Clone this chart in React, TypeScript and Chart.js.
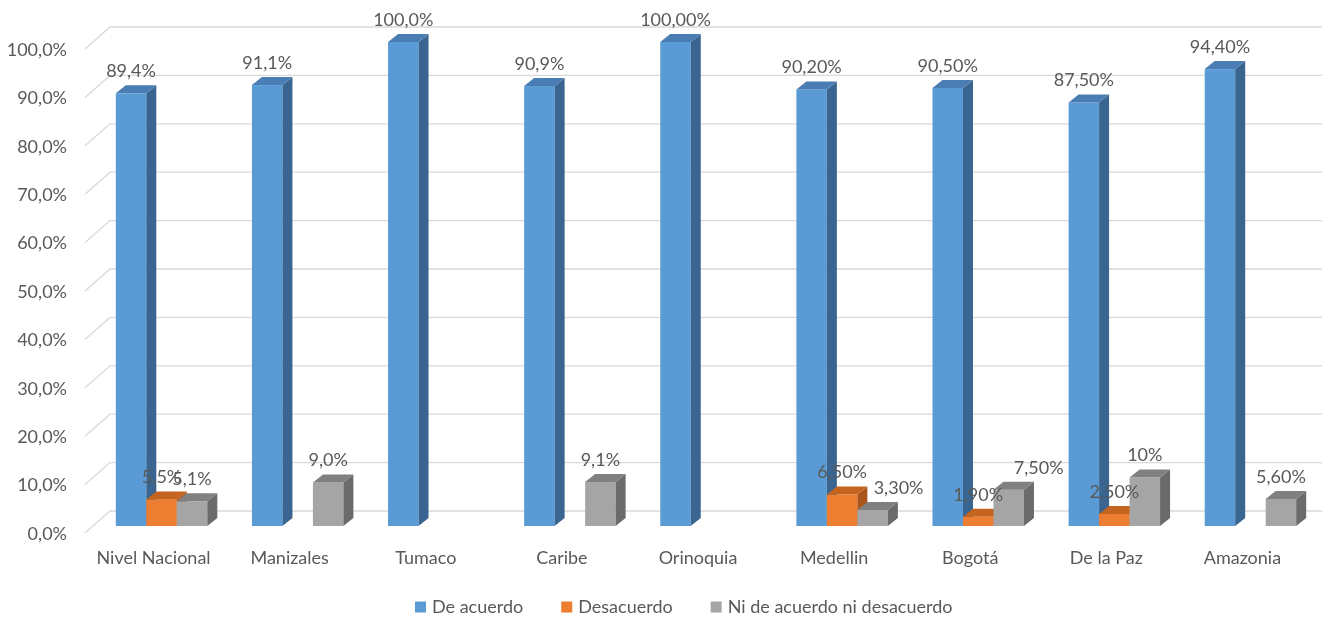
import React, { useEffect, useRef } from "react";
import { Chart, registerables } from "chart.js";

Chart.register(...registerables);

// ---- data ----
const categories = ["Nivel Nacional", "Manizales", "Tumaco", "Caribe", "Orinoquia", "Medellin", "Bogotá", "De la Paz", "Amazonia"];
const seriesNames = ["De acuerdo", "Desacuerdo", "Ni de acuerdo ni desacuerdo"];
const deAcuerdo = [89.4, 91.1, 100, 90.9, 100, 90.2, 90.5, 87.5, 94.4];
const desacuerdo = [5.5, null, null, null, null, 6.5, 1.9, 2.5, null];
const niNi = [5.1, 9.0, null, 9.1, null, 3.3, 7.5, 10, 5.6];
const deAcuerdoLabels = ["89,4%", "91,1%", "100,0%", "90,9%", "100,00%", "90,20%", "90,50%", "87,50%", "94,40%"];
const desacuerdoLabels = ["5,5%", "", "", "", "", "6,50%", "1,90%", "2,50%", ""];
const niNiLabels = ["5,1%", "9,0%", "", "9,1%", "", "3,30%", "7,50%", "10%", "5,60%"];
const yTickValues = [0, 10, 20, 30, 40, 50, 60, 70, 80, 90, 100];

// ---- styling ----
const FONT = "Lato, 'Open Sans', sans-serif";
const TEXT = "#595959";
const FRONT = ["#5B9BD5", "#ED7D31", "#A5A5A5"];
const TOP = ["#4A7DB4", "#C4641F", "#808080"];
const SIDE = ["#3A6590", "#A9561B", "#6B6B6B"];
const DEPTH_X = 10;
const DEPTH_Y = -8;
// label nudges (dataset-index, category-index) -> x shift
const labelNudge: Record<string, number> = { "2-5": 26, "2-6": 30 };

const allValues = [deAcuerdo, desacuerdo, niNi];
const allLabels = [deAcuerdoLabels, desacuerdoLabels, niNiLabels];

const bars3d = {
  id: "bars3d",
  beforeDatasetsDraw(chart: any) {
    const ctx = chart.ctx;
    const ys = chart.scales.y;
    const left = chart.chartArea.left;
    ctx.save();
    ctx.strokeStyle = "#D9D9D9";
    ctx.lineWidth = 1.3;
    for (const v of yTickValues) {
      const y = ys.getPixelForValue(v);
      ctx.beginPath();
      ctx.moveTo(left - 8.5, y + 7);
      ctx.lineTo(left + 16.5, y - 15);
      ctx.lineTo(chart.width, y - 15);
      ctx.stroke();
    }
    ctx.restore();
  },
  beforeDatasetDraw() {
    return false;
  },
  afterDatasetsDraw(chart: any) {
    const ctx = chart.ctx;
    ctx.save();
    const n = categories.length;
    for (let j = 0; j < n; j++) {
      for (let i = 0; i < 3; i++) {
        const val = allValues[i][j];
        if (val === null || val === undefined) continue;
        const el: any = chart.getDatasetMeta(i).data[j];
        const { x, y, base, width } = el.getProps(["x", "y", "base", "width"], true);
        const l = x - width / 2;
        const r = x + width / 2;
        // front
        ctx.fillStyle = FRONT[i];
        ctx.fillRect(l, y, width, base - y);
        // side
        ctx.fillStyle = SIDE[i];
        ctx.beginPath();
        ctx.moveTo(r, y);
        ctx.lineTo(r + DEPTH_X, y + DEPTH_Y);
        ctx.lineTo(r + DEPTH_X, base + DEPTH_Y);
        ctx.lineTo(r, base);
        ctx.closePath();
        ctx.fill();
        // top
        ctx.fillStyle = TOP[i];
        ctx.beginPath();
        ctx.moveTo(l, y);
        ctx.lineTo(l + DEPTH_X, y + DEPTH_Y);
        ctx.lineTo(r + DEPTH_X, y + DEPTH_Y);
        ctx.lineTo(r, y);
        ctx.closePath();
        ctx.fill();
      }
    }
    // data labels
    ctx.font = `18px ${FONT}`;
    ctx.fillStyle = TEXT;
    ctx.textAlign = "center";
    ctx.textBaseline = "middle";
    for (let j = 0; j < n; j++) {
      for (let i = 0; i < 3; i++) {
        const val = allValues[i][j];
        const txt = allLabels[i][j];
        if (val === null || val === undefined || !txt) continue;
        const el: any = chart.getDatasetMeta(i).data[j];
        const { x, y } = el.getProps(["x", "y"], true);
        const dx = labelNudge[`${i}-${j}`] || 0;
        ctx.fillText(txt, x + dx, y - 22);
      }
    }
    ctx.restore();
  },
  afterDraw(chart: any) {
    const ctx = chart.ctx;
    ctx.save();
    ctx.font = `18px ${FONT}`;
    ctx.textBaseline = "middle";
    ctx.textAlign = "left";
    let x = 415;
    const yc = 607;
    const box = 11;
    for (let i = 0; i < seriesNames.length; i++) {
      ctx.fillStyle = FRONT[i];
      ctx.fillRect(x, yc - box / 2, box, box);
      ctx.fillStyle = TEXT;
      ctx.fillText(seriesNames[i], x + box + 6, yc);
      x += box + 6 + ctx.measureText(seriesNames[i]).width + 38;
    }
    ctx.restore();
  },
};

export default function App() {
  const ref = useRef<HTMLCanvasElement>(null);
  useEffect(() => {
    document.body.style.margin = "0";
    const canvas = ref.current!;
    const chart = new Chart(canvas, {
      type: "bar",
      data: {
        labels: categories,
        datasets: allValues.map((vals, i) => ({
          label: seriesNames[i],
          data: vals as any,
          backgroundColor: FRONT[i],
          borderWidth: 0,
          categoryPercentage: 0.672,
          barPercentage: 1.0,
        })),
      },
      options: {
        animation: false,
        responsive: true,
        maintainAspectRatio: false,
        layout: { padding: { top: 42, right: 3.5, bottom: 0, left: 0 } },
        plugins: {
          legend: { display: false },
          tooltip: { enabled: false },
        },
        scales: {
          x: {
            grid: { display: false, drawTicks: false },
            border: { display: false },
            ticks: {
              color: TEXT,
              font: { family: FONT, size: 18 },
              padding: 21,
              labelOffset: -8,
              maxRotation: 0,
              autoSkip: false,
            },
            afterFit: (s: any) => {
              s.height = 91;
            },
          },
          y: {
            min: 0,
            max: 100,
            grid: { display: false, drawTicks: false },
            border: { display: false },
            afterBuildTicks: (s: any) => {
              s.ticks = yTickValues.map((v) => ({ value: v }));
            },
            ticks: {
              color: TEXT,
              font: { family: FONT, size: 18 },
              padding: 26.5,
              labelOffset: 8,
              callback: (v: any) => Number(v).toFixed(1).replace(".", ",") + "%",
            },
            afterFit: (s: any) => {
              s.width = 93.5;
            },
          },
        },
      },
      plugins: [bars3d],
    });
    return () => chart.destroy();
  }, []);
  return (
    <div style={{ width: 1322, height: 617, position: "relative" }}>
      <canvas ref={ref} />
    </div>
  );
}
